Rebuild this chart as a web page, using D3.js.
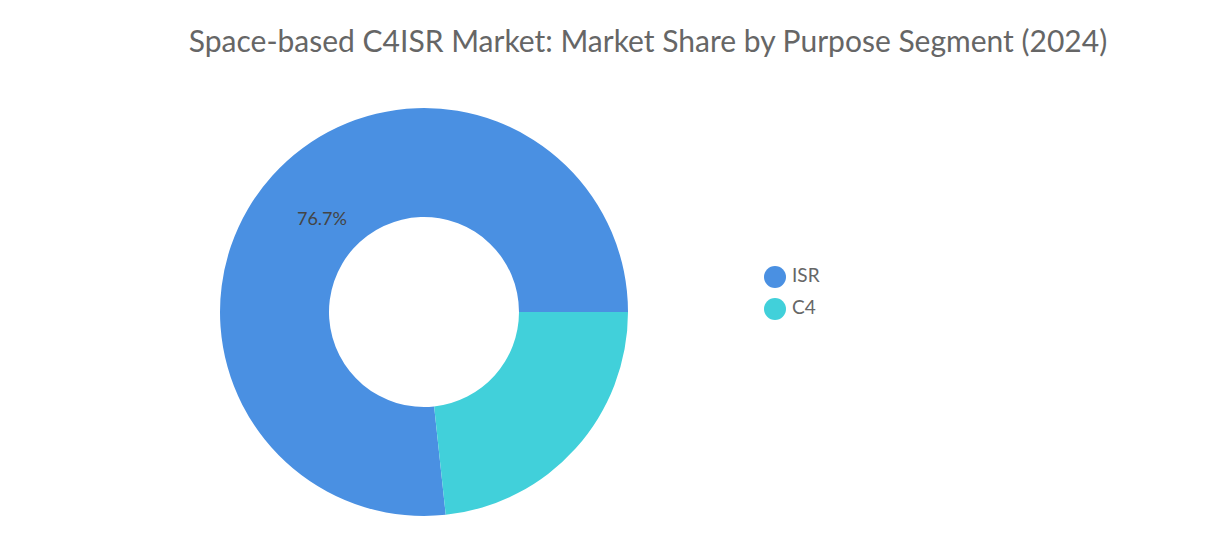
<!DOCTYPE html>
<html><head><meta charset="utf-8">
<script src="https://cdn.jsdelivr.net/npm/d3@7"></script>
<style>body{margin:0;background:#fff;font-family:Lato,"Open Sans",sans-serif}</style>
</head><body><svg id="chart" width="1228" height="550"></svg>
<script>
const categories = ['ISR', 'C4'];
const shares = [76.7, 23.3];
const colors = ['#4a90e2', '#41d0da'];

const svg = d3.select('#chart');
svg.append('text').attr('x', 648).attr('y', 52).attr('text-anchor', 'middle')
    .attr('font-size', 30).attr('fill', '#666')
    .text('Space-based C4ISR Market: Market Share by Purpose Segment (2024)');

const cx = 424, cy = 312, outer = 204, inner = 95;
const start = Math.PI / 2 + (shares[1] / 100) * 2 * Math.PI;
const pie = d3.pie().sort(null).startAngle(start).endAngle(start + 2 * Math.PI);
const arc = d3.arc().innerRadius(inner).outerRadius(outer);
const g = svg.append('g').attr('transform', `translate(${cx},${cy})`);
const arcs = pie(shares);
g.selectAll('path').data(arcs).join('path')
    .attr('d', arc).attr('fill', (d, i) => colors[i]);

// label only the big slice, placed upper-left like the reference
const labelAngle = -0.84;
const labelArc = d3.arc().innerRadius(137).outerRadius(137);
const pos = labelArc.centroid({startAngle: labelAngle, endAngle: labelAngle});
g.append('text').attr('x', pos[0]).attr('y', pos[1]).attr('text-anchor', 'middle')
    .attr('dominant-baseline', 'middle').attr('font-size', 18).attr('fill', '#444')
    .text(shares[0] + '%');

const legend = svg.append('g').selectAll('g').data(categories).join('g')
    .attr('transform', (d, i) => `translate(775,${277 + i * 32})`);
legend.append('circle').attr('r', 11).attr('fill', (d, i) => colors[i]);
legend.append('text').attr('x', 17).attr('dominant-baseline', 'middle')
    .attr('font-size', 19).attr('fill', '#666').text(d => d);
</script></body></html>
